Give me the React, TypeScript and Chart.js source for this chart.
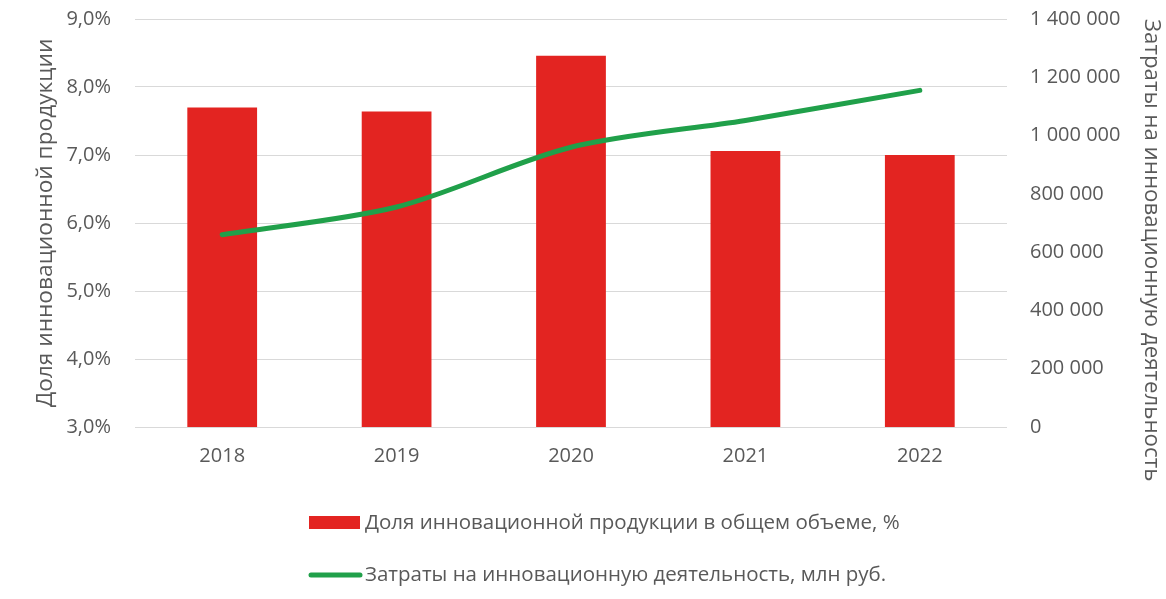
import React, { useEffect, useRef } from 'react';
import { Chart, registerables } from 'chart.js';

Chart.register(...registerables);

// ---- data ----
const years: string[] = ['2018', '2019', '2020', '2021', '2022'];
const shareValues: number[] = [7.7, 7.64, 8.46, 7.06, 7.0];
const costValues: number[] = [660000, 755000, 960000, 1052000, 1155000];

const shareLabel = 'Доля инновационной продукции в общем объеме, %';
const costLabel = 'Затраты на инновационную деятельность, млн руб.';
const leftTitle = 'Доля инновационной продукции';
const rightTitle = 'Затраты на инновационную деятельность';

// ---- style ----
const FONT = '"Open Sans", "Noto Sans", sans-serif';
const TEXT = '#595959';
const GRID = '#d9d9d9';
const RED = '#e32421';
const GREEN = '#20a04a';
const CLEAR = 'rgba(0,0,0,0)';

const legendPlugin = {
  id: 'customLegend',
  afterDraw(chart: any) {
    const ctx = chart.ctx as CanvasRenderingContext2D;
    const ds = chart.data.datasets;
    ctx.save();
    ctx.font = `20.5px ${FONT}`;
    ctx.fillStyle = TEXT;
    ctx.textBaseline = 'middle';
    ctx.textAlign = 'left';
    // row 1: bar
    ctx.fillStyle = ds[0].backgroundColor;
    ctx.fillRect(309, 516, 51, 13);
    ctx.fillStyle = TEXT;
    ctx.fillText(ds[0].label, 365, 523);
    // row 2: line
    ctx.strokeStyle = ds[1].borderColor;
    ctx.lineWidth = 5;
    ctx.lineCap = 'round';
    ctx.beginPath();
    ctx.moveTo(311, 575);
    ctx.lineTo(360, 575);
    ctx.stroke();
    ctx.fillText(ds[1].label, 365, 575);
    ctx.restore();
  },
};

function fmtPct(v: number): string {
  return v.toFixed(1).replace('.', ',') + '%';
}
function fmtNum(v: number): string {
  return Math.round(v).toString().replace(/\B(?=(\d{3})+(?!\d))/g, ' ');
}

export default function App() {
  const ref = useRef<HTMLCanvasElement | null>(null);

  useEffect(() => {
    if (!ref.current) return;
    const chart = new Chart(ref.current, {
      data: {
        labels: years,
        datasets: [
          {
            type: 'bar',
            label: shareLabel,
            data: shareValues,
            backgroundColor: RED,
            yAxisID: 'y',
            categoryPercentage: 1,
            barPercentage: 0.4,
            order: 2,
          },
          {
            type: 'line',
            label: costLabel,
            data: costValues,
            borderColor: GREEN,
            backgroundColor: GREEN,
            borderWidth: 5,
            pointRadius: 0,
            tension: 0.3,
            borderCapStyle: 'round',
            yAxisID: 'y1',
            order: 1,
          },
        ],
      } as any,
      options: {
        animation: false,
        responsive: false,
        maintainAspectRatio: false,
        layout: { padding: { top: 19, right: 0, bottom: 0, left: 0 } },
        plugins: {
          legend: { display: false },
          tooltip: { enabled: false },
        },
        scales: {
          x: {
            grid: { display: false, drawTicks: false },
            border: { display: false },
            ticks: { color: TEXT, font: { family: FONT, size: 20 }, padding: 17 },
            afterFit(scale: any) {
              scale.height = 172;
            },
          },
          y: {
            position: 'left',
            min: 3,
            max: 9,
            grid: { color: GRID, lineWidth: 1, drawTicks: true, tickLength: 24, tickColor: CLEAR },
            border: { display: false },
            ticks: {
              stepSize: 1,
              color: TEXT,
              font: { family: FONT, size: 20 },
              padding: 0,
              callback: (v: any) => fmtPct(Number(v)),
            },
            title: {
              display: true,
              text: leftTitle,
              color: TEXT,
              font: { family: FONT, size: 22.7 },
              padding: { top: 32, bottom: 0 },
            },
            afterFit(scale: any) {
              scale.width = 135;
            },
          },
          y1: {
            position: 'right',
            min: 0,
            max: 1400000,
            grid: { drawOnChartArea: false, drawTicks: true, tickLength: 23, tickColor: CLEAR },
            border: { display: false },
            ticks: {
              stepSize: 200000,
              color: TEXT,
              font: { family: FONT, size: 20 },
              padding: 0,
              callback: (v: any) => fmtNum(Number(v)),
            },
            title: {
              display: true,
              text: rightTitle,
              color: TEXT,
              align: 'end',
              font: { family: FONT, size: 22.3 },
              padding: { top: 1, bottom: 0 },
            },
            afterFit(scale: any) {
              scale.width = 159;
            },
          },
        },
      } as any,
      plugins: [legendPlugin],
    });
    return () => chart.destroy();
  }, []);

  return (
    <div style={{ position: 'fixed', left: 0, top: 0, width: 1166, height: 599, background: '#fff' }}>
      <canvas ref={ref} width={1166} height={599} style={{ display: 'block', width: 1166, height: 599 }} />
    </div>
  );
}
